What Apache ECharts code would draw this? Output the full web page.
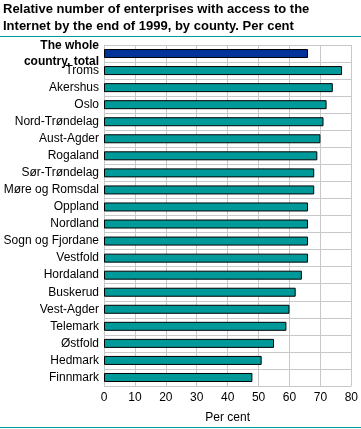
<!DOCTYPE html>
<html><head><meta charset="utf-8">
<script src="https://cdn.jsdelivr.net/npm/echarts@6/dist/echarts.min.js"></script>
<style>html,body{margin:0;padding:0;background:#fff}#c{width:361px;height:429px}</style>
</head><body><div id="c"></div>
<script>
const categories = ["The whole country, total","Troms","Akershus","Oslo","Nord-Trøndelag","Aust-Agder","Rogaland","Sør-Trøndelag","Møre og Romsdal","Oppland","Nordland","Sogn og Fjordane","Vestfold","Hordaland","Buskerud","Vest-Agder","Telemark","Østfold","Hedmark","Finnmark"];
const values = [66,77,74,72,71,70,69,68,68,66,66,66,66,64,62,60,59,55,51,48];
const xTicks = [0,10,20,30,40,50,60,70,80];
const titleLines = ["Relative number of enterprises with access to the","Internet by the end of 1999, by county. Per cent"];

const chart = echarts.init(document.getElementById('c'));
chart.setOption({
  animation:false,
  title:{text:titleLines.join('\n'),left:3,top:1,padding:0,textStyle:{fontFamily:'Liberation Sans',fontWeight:'bold',fontSize:13,lineHeight:17,color:'#000'}},
  graphic:[
    {type:'line',shape:{x1:0,y1:36.5,x2:361,y2:36.5},style:{stroke:'#009999',lineWidth:1}},
    {type:'line',shape:{x1:0,y1:427.5,x2:361,y2:427.5},style:{stroke:'#009999',lineWidth:1}}
  ],
  grid:{left:104,right:9,top:45,bottom:36},
  xAxis:{type:'value',min:xTicks[0],max:xTicks[xTicks.length-1],interval:10,
    axisLine:{show:false},axisTick:{show:false},
    splitLine:{show:true,lineStyle:{color:'#c8c8c8',width:1}},
    axisLabel:{margin:6,fontFamily:'Liberation Sans',fontSize:12,color:'#000'},
    name:'Per cent',nameLocation:'middle',nameGap:26,nameTextStyle:{fontFamily:'Liberation Sans',fontSize:12,color:'#000'}},
  yAxis:{type:'category',data:categories,inverse:true,
    axisLine:{show:true,lineStyle:{color:'#c8c8c8'}},axisTick:{show:false},
    splitLine:{show:true,interval:0,lineStyle:{color:'#c8c8c8',width:1}},
    axisLabel:{interval:0,margin:5,fontFamily:'Liberation Sans',fontSize:12,color:'#000',
      formatter:function(v){ if(v===categories[0]) return '{b|The whole}\n{b|country, total}'; return v; },
      rich:{b:{fontFamily:'Liberation Sans',fontWeight:'bold',fontSize:12,lineHeight:16,color:'#000'}}}},
  series:[{type:'bar',barWidth:9,
    data:values.map((v,i)=>({value:v,itemStyle:{color:i===0?'#003399':'#009999'}})),
    itemStyle:{borderColor:'#000',borderWidth:1}}]
});
</script></body></html>
